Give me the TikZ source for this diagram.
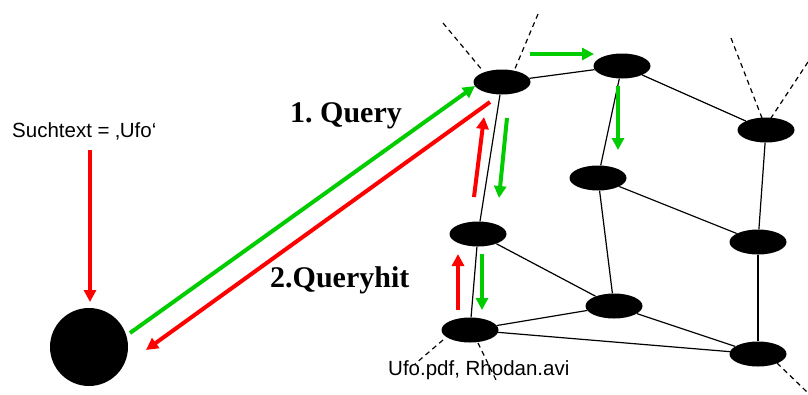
\documentclass[tikz,border=0pt]{standalone}
\usepackage{fontspec}
\setmainfont{Liberation Serif}
\setsansfont{Liberation Sans}
\usetikzlibrary{shapes.geometric,arrows.meta}
\definecolor{qgreen}{RGB}{0,204,0}
\definecolor{qred}{RGB}{255,0,0}
\frenchspacing
\begin{document}
\begin{tikzpicture}[x=1pt,y=-1pt,
  peer/.style={ellipse,fill=black,draw=none,minimum width=57pt,minimum height=25pt,inner sep=0pt},
  link/.style={line width=1.2pt,black},
  open/.style={line width=1.2pt,black,dash pattern=on 5pt off 4pt},
  qarrow/.style={line width=4pt,-{Triangle[length=12pt,width=12pt]}},
  sans/.style={font=\sffamily\fontsize{20.5}{24}\selectfont,inner sep=0pt},
  bigtext/.style={font=\rmfamily\bfseries\fontsize{30}{34}\selectfont,inner sep=0pt}]
\useasboundingbox (0,0) rectangle (808,394);

% searching client
\node[circle,fill=black,minimum size=78pt,inner sep=0pt] (client) at (89,347) {};

% network peers
\node[peer] (A) at (502,82) {};
\node[peer] (B) at (622,66) {};
\node[peer] (C) at (766,130) {};
\node[peer] (D) at (598,178) {};
\node[peer] (E) at (478,234) {};
\node[peer] (F) at (614,306) {};
\node[peer] (G) at (758,242) {};
\node[peer] (H) at (470,330) {};
\node[peer] (I) at (758,354) {};

% links between peers
\draw[link] (A) -- (B);
\draw[link] (A) -- (E);
\draw[link] (B) -- (D);
\draw[link] (B) -- (C);
\draw[link] (C) -- (G);
\draw[link] (D) -- (F);
\draw[link] (D) -- (G);
\draw[link] (E) -- (F);
\draw[link] (E) -- (H);
\draw[link] (H) -- (F);
\draw[link] (H) -- (I);
\draw[link] (F) -- (I);
\draw[link] (G) -- (I);

% links leaving the shown part of the network
\coordinate (a1) at (443,23);  \coordinate (a1e) at (483,71);
\coordinate (a2) at (538,14);  \coordinate (a2e) at (514,71);
\coordinate (c1) at (731,38);  \coordinate (c1e) at (762,118);
\coordinate (c2) at (808,62);  \coordinate (c2e) at (771,118);
\coordinate (h1) at (443,340); \coordinate (h1e) at (415,364);
\coordinate (h2) at (478,343); \coordinate (h2e) at (497,382);
\coordinate (i1) at (777,363); \coordinate (i1e) at (808,393);
\draw[open] (a1) -- (a1e);
\draw[open] (a2) -- (a2e);
\draw[open] (c1) -- (c1e);
\draw[open] (c2) -- (c2e);
\draw[open] (h1) -- (h1e);
\draw[open] (h2) -- (h2e);
\draw[open] (i1) -- (i1e);

% labels
\node[sans,anchor=base west] (search) at (12,137) {Suchtext = ‚Ufo‘};
\node[sans,anchor=base west] (files) at (388,375) {Ufo.pdf, Rhodan.avi};
\node[bigtext,anchor=base west] (q1) at (290,122) {1. Query};
\node[bigtext,anchor=base west] (q2) at (270,287) {2.Queryhit};

% query and hit paths
\coordinate (s0) at (90,150);   \coordinate (s1) at (90,302);
\coordinate (g0) at (130,333);  \coordinate (g1) at (475,86);
\coordinate (r0) at (490,102);  \coordinate (r1) at (146,350);
\coordinate (ab0) at (530,54);  \coordinate (ab1) at (594,54);
\coordinate (bd0) at (618,86);  \coordinate (bd1) at (618,150);
\coordinate (ae0) at (507,118); \coordinate (ae1) at (499,198);
\coordinate (ea0) at (474,197); \coordinate (ea1) at (484,117);
\coordinate (eh0) at (482,254); \coordinate (eh1) at (482,310);
\coordinate (he0) at (458,310); \coordinate (he1) at (458,254);

\draw[qarrow,qred] (s0) -- (s1);
\draw[qarrow,qgreen] (g0) -- (g1);
\draw[qarrow,qred] (r0) -- (r1);
\draw[qarrow,qgreen] (ab0) -- (ab1);
\draw[qarrow,qgreen] (bd0) -- (bd1);
\draw[qarrow,qgreen] (ae0) -- (ae1);
\draw[qarrow,qred] (ea0) -- (ea1);
\draw[qarrow,qgreen] (eh0) -- (eh1);
\draw[qarrow,qred] (he0) -- (he1);
\end{tikzpicture}
\end{document}
